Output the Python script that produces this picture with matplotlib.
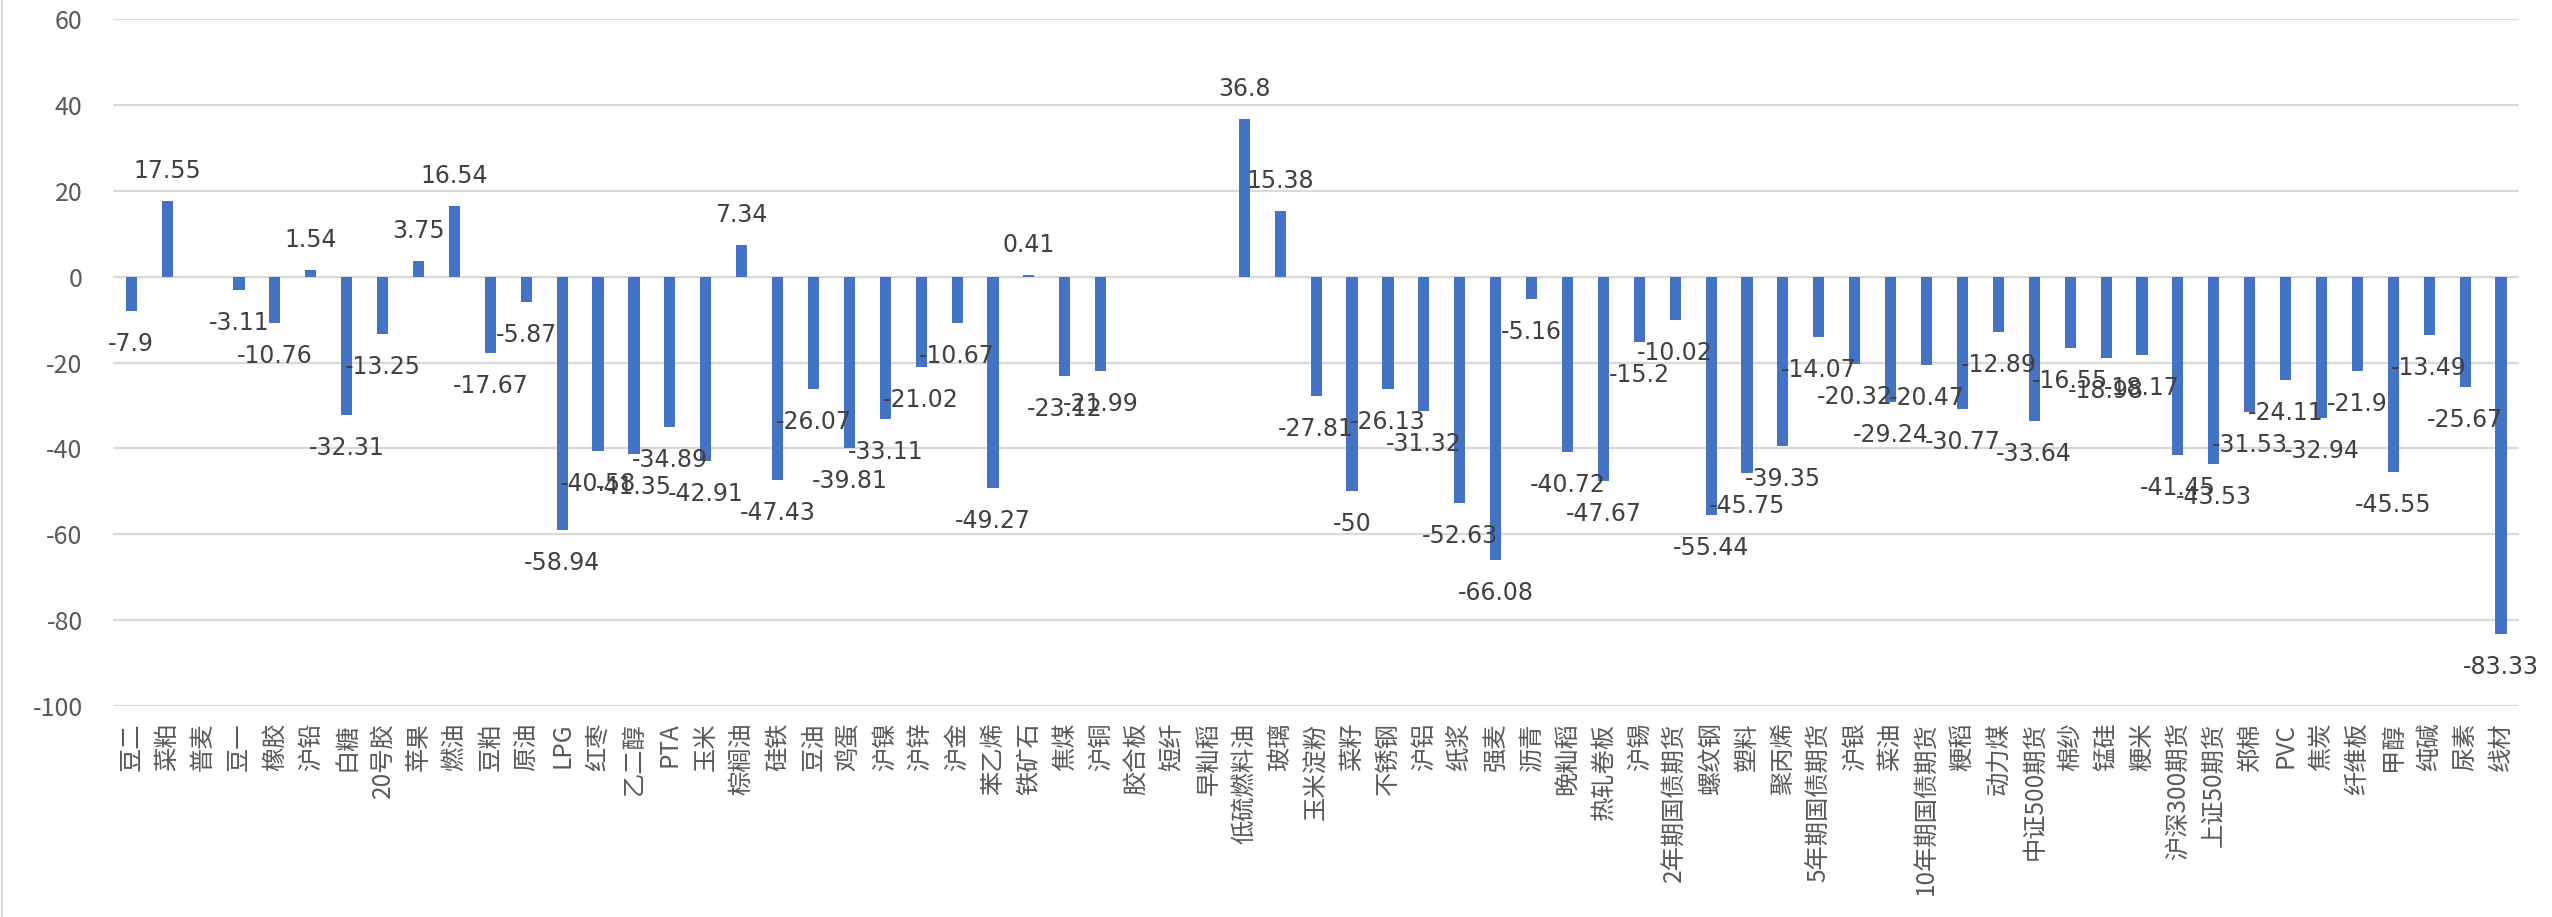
import numpy as np
import matplotlib
matplotlib.use("Agg")
import matplotlib.pyplot as plt
from matplotlib.lines import Line2D

plt.rcParams['font.family'] = ['Noto Sans CJK SC', 'DejaVu Sans']

categories = ["豆二", "菜粕", "普麦", "豆一", "橡胶", "沪铅", "白糖", "20号胶", "苹果", "燃油",
              "豆粕", "原油", "LPG", "红枣", "乙二醇", "PTA", "玉米", "棕榈油", "硅铁", "豆油",
              "鸡蛋", "沪镍", "沪锌", "沪金", "苯乙烯", "铁矿石", "焦煤", "沪铜", "胶合板", "短纤",
              "早籼稻", "低硫燃料油", "玻璃", "玉米淀粉", "菜籽", "不锈钢", "沪铝", "纸浆", "强麦", "沥青",
              "晚籼稻", "热轧卷板", "沪锡", "2年期国债期货", "螺纹钢", "塑料", "聚丙烯", "5年期国债期货", "沪银", "菜油",
              "10年期国债期货", "粳稻", "动力煤", "中证500期货", "棉纱", "锰硅", "粳米", "沪深300期货", "上证50期货", "郑棉",
              "PVC", "焦炭", "纤维板", "甲醇", "纯碱", "尿素", "线材"]

values = [-7.9, 17.55, np.nan, -3.11, -10.76, 1.54, -32.31, -13.25, 3.75, 16.54,
          -17.67, -5.87, -58.94, -40.58, -41.35, -34.89, -42.91, 7.34, -47.43, -26.07,
          -39.81, -33.11, -21.02, -10.67, -49.27, 0.41, -23.12, -21.99, np.nan, np.nan,
          np.nan, 36.8, 15.38, -27.81, -50, -26.13, -31.32, -52.63, -66.08, -5.16,
          -40.72, -47.67, -15.2, -10.02, -55.44, -45.75, -39.35, -14.07, -20.32, -29.24,
          -20.47, -30.77, -12.89, -33.64, -16.55, -18.98, -18.17, -41.45, -43.53, -31.53,
          -24.11, -32.94, -21.9, -45.55, -13.49, -25.67, -83.33]

yticks = [-100, -80, -60, -40, -20, 0, 20, 40, 60]

W, H = 2552, 917
fig = plt.figure(figsize=(W / 100, H / 100), dpi=100)
ax = fig.add_axes([113.3 / W, 1 - 706 / H, (2519 - 113.3) / W, (706 - 19.3) / H])

x = np.arange(len(categories))
vals = np.array(values, dtype=float)
ax.bar(x, np.nan_to_num(vals), width=0.31, color="#4472C4", zorder=3)

ax.set_xlim(-0.5, len(categories) - 0.5)
ax.set_ylim(-100, 60)
ax.set_yticks(yticks)
ax.set_yticklabels([str(t) for t in yticks], fontsize=18, color="#595959")
ax.yaxis.grid(True, color="#d9d9d9", linewidth=1.6, zorder=0)
ax.set_axisbelow(True)
ax.tick_params(axis='y', length=0, pad=22)
ax.set_xticks(x)
ax.set_xticklabels(categories, rotation=90, fontsize=17.5, color="#595959", va='top', ha='center')
ax.tick_params(axis='x', length=0, pad=12)
for s in ax.spines.values():
    s.set_visible(False)

for xi, v in zip(x, vals):
    if np.isnan(v):
        continue
    label = f"{v:g}"
    off = 30 if v >= 0 else -33
    ax.annotate(label, (xi, v), xytext=(0, off), textcoords='offset pixels',
                ha='center', va='center', fontsize=17, family='DejaVu Sans',
                color="#404040", zorder=4)

# chart border (left edge)
fig.add_artist(Line2D([2.5 / W, 2.5 / W], [0, 1], color="#d9d9d9", linewidth=1.6, transform=fig.transFigure))

fig.savefig("out.png", dpi=100, facecolor="white")
